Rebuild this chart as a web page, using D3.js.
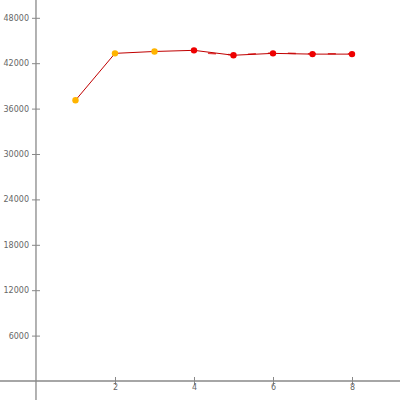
<!DOCTYPE html>
<html><head><meta charset="utf-8">
<script src="https://cdn.jsdelivr.net/npm/d3@7"></script>
<style>body{margin:0;background:#fff}svg{display:block}</style>
</head><body>
<script>
const xValues = [1, 2, 3, 4, 5, 6, 7, 8];
const seriesA = [37100, 43300, 43550, 43700, 43050, 43300, 43200, 43200];
const seriesBx = [4, 5, 6, 7, 8];
const seriesB = [43450, 43100, 43350, 43250, 43250];
const orangeIdx = [0, 1, 2];
const redIdx = [3, 4, 5, 6, 7];
const xTicks = [2, 4, 6, 8];
const yTicks = [6000, 12000, 18000, 24000, 30000, 36000, 42000, 48000];

const W = 400, H = 400;
const svg = d3.select("body").append("svg").attr("width", W).attr("height", H);
const x = d3.scaleLinear().domain([-0.911, 9.215]).range([0, W]);
const y = d3.scaleLinear().domain([-2511, 50352]).range([H, 0]);

const axisColor = "#888";
const textColor = "#666";

const gx = svg.append("g").attr("transform", `translate(0,${y(0)})`)
  .call(d3.axisBottom(x).tickValues(xTicks).tickSize(4).tickSizeOuter(0).tickFormat(d3.format("d")));
gx.select(".domain").remove();
gx.selectAll(".tick line").attr("y1", -4).attr("stroke", axisColor);
gx.selectAll(".tick text").attr("fill", textColor).attr("font-family", "DejaVu Sans").attr("font-size", 8).attr("dy", "0.9em").attr("y", 2);
svg.append("line").attr("x1", 0).attr("x2", W).attr("y1", y(0)).attr("y2", y(0)).attr("stroke", axisColor).attr("stroke-width", 1.3);

const gy = svg.append("g").attr("transform", `translate(${x(0)},0)`)
  .call(d3.axisLeft(y).tickValues(yTicks).tickSize(4).tickSizeOuter(0).tickFormat(d3.format("d")));
gy.select(".domain").remove();
gy.selectAll(".tick line").attr("x1", -4).attr("x2", 4).attr("stroke", axisColor);
gy.selectAll(".tick text").attr("fill", textColor).attr("font-family", "DejaVu Sans").attr("font-size", 8).attr("x", -7);
svg.append("line").attr("x1", x(0)).attr("x2", x(0)).attr("y1", 0).attr("y2", H).attr("stroke", axisColor).attr("stroke-width", 1.3);

const line = d3.line().x(d => x(d[0])).y(d => y(d[1]));
const dataA = xValues.map((v, i) => [v, seriesA[i]]);
const dataB = seriesBx.map((v, i) => [v, seriesB[i]]);

svg.append("path").datum(dataB).attr("d", line).attr("fill", "none")
  .attr("stroke", "#e02020").attr("stroke-width", 1.5).attr("stroke-dasharray", "8,12").attr("stroke-dashoffset", -14).attr("opacity", 0.85);
svg.append("path").datum(dataA).attr("d", line).attr("fill", "none")
  .attr("stroke", "#c00000").attr("stroke-width", 1);

svg.selectAll("circle.a").data(orangeIdx.map(i => dataA[i])).enter().append("circle")
  .attr("cx", d => x(d[0])).attr("cy", d => y(d[1])).attr("r", 3.2).attr("fill", "#ffb400");
svg.selectAll("circle.b").data(redIdx.map(i => dataA[i])).enter().append("circle")
  .attr("cx", d => x(d[0])).attr("cy", d => y(d[1])).attr("r", 3.2).attr("fill", "#ee0000");
</script>
</body></html>
